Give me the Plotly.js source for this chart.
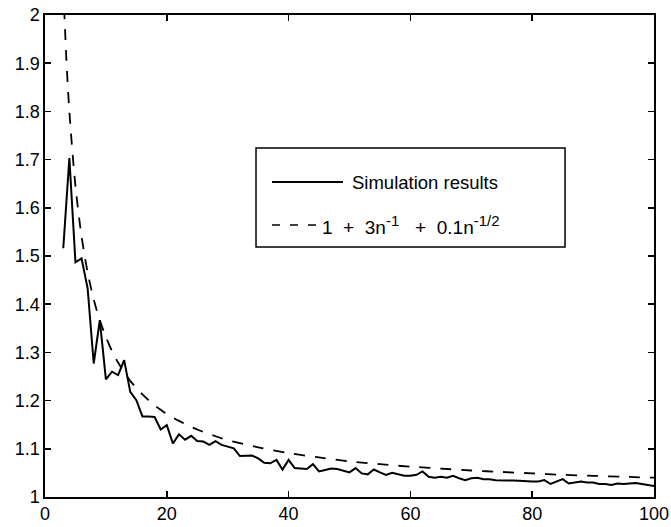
<!DOCTYPE html>
<html>
<head>
<meta charset="utf-8">
<script src="https://cdn.plot.ly/plotly-3.0.1.min.js"></script>
<style>
  html, body { margin: 0; padding: 0; background: #fff; }
  #chart { width: 671px; height: 527px; }
</style>
</head>
<body>
<div id="chart"></div>
<script>
// Simulation results, one value per n = 3..100
const simN = [];
for (let n = 3; n <= 100; n++) simN.push(n);
const simValues = [
  1.516, 1.703, 1.487, 1.495, 1.433, 1.277, 1.367, 1.244, 1.260, 1.253,
  1.284, 1.218, 1.201, 1.167, 1.167, 1.166, 1.140, 1.149, 1.111, 1.130,
  1.119, 1.127, 1.116, 1.115, 1.108, 1.116, 1.108, 1.104, 1.101, 1.085,
  1.085, 1.086, 1.080, 1.071, 1.070, 1.077, 1.057, 1.077, 1.060, 1.059,
  1.058, 1.068, 1.053, 1.056, 1.059, 1.058, 1.055, 1.051, 1.060, 1.049,
  1.047, 1.057, 1.051, 1.046, 1.050, 1.047, 1.044, 1.044, 1.046, 1.053,
  1.042, 1.040, 1.042, 1.040, 1.044, 1.039, 1.035, 1.039, 1.040, 1.037,
  1.037, 1.035, 1.034, 1.034, 1.034, 1.033, 1.032, 1.032, 1.032, 1.035,
  1.027, 1.032, 1.037, 1.028, 1.030, 1.032, 1.030, 1.030, 1.027, 1.027,
  1.025, 1.028, 1.027, 1.028, 1.029, 1.027, 1.025, 1.023
];

// Reference curve 1 + 3/n + 0.1/sqrt(n), tabulated
const fitN = [3, 3.5, 4, 5, 6, 7, 8, 9, 10, 11, 12, 13, 14, 15, 16, 17, 18, 19, 20,
  22, 25, 28, 30, 35, 40, 45, 50, 55, 60, 65, 70, 75, 80, 85, 90, 95, 100];
const fitValues = [2.058, 1.911, 1.800, 1.645, 1.541, 1.466, 1.410, 1.367, 1.332, 1.303,
  1.279, 1.259, 1.241, 1.226, 1.213, 1.201, 1.190, 1.181, 1.172,
  1.158, 1.140, 1.126, 1.118, 1.103, 1.091, 1.082, 1.074, 1.068, 1.063, 1.059,
  1.055, 1.052, 1.049, 1.046, 1.044, 1.042, 1.040];

const xTicks = [0, 20, 40, 60, 80, 100];
const yTicks = [1, 1.1, 1.2, 1.3, 1.4, 1.5, 1.6, 1.7, 1.8, 1.9, 2];

const SUP = '<sup><span style="font-size:15px">';
const legendLabels = [
  'Simulation results',
  '1&nbsp;&nbsp;+&nbsp;&nbsp;3n' + SUP + '-1</span></sup>&nbsp;&nbsp;&nbsp;+&nbsp;&nbsp;0.1n' + SUP + '-1/2</span></sup>'
];

const FONT = 'Liberation Sans, Arial, Helvetica, sans-serif';

const traces = [
  {
    x: simN, y: simValues, type: 'scatter', mode: 'lines',
    line: { color: '#000', width: 2 }, showlegend: false, hoverinfo: 'skip'
  },
  {
    x: fitN, y: fitValues, type: 'scatter', mode: 'lines',
    line: { color: '#000', width: 1.8, dash: '11px,10px', shape: 'spline', smoothing: 0.8 },
    showlegend: false, hoverinfo: 'skip'
  }
];

const axisCommon = {
  showline: true, linecolor: '#000', linewidth: 1.6, mirror: 'ticks',
  ticks: 'inside', ticklen: 6, tickwidth: 1.5, tickcolor: '#000',
  showgrid: false, zeroline: false,
  tickfont: { family: FONT, size: 18, color: '#000' }
};

// Legend box drawn in paper coordinates
const shapes = [
  { type: 'rect', xref: 'paper', yref: 'paper', x0: 0.3465, x1: 0.8539, y0: 0.5187, y1: 0.7241,
    line: { color: '#000', width: 1.5 }, fillcolor: '#fff', layer: 'above' },
  { type: 'line', xref: 'paper', yref: 'paper', x0: 0.3727, x1: 0.4893, y0: 0.6535, y1: 0.6535,
    line: { color: '#000', width: 1.8 }, layer: 'above' },
  { type: 'line', xref: 'paper', yref: 'paper', x0: 0.3727, x1: 0.4516, y0: 0.5643, y1: 0.5643,
    line: { color: '#000', width: 1.6, dash: '8px,10px' }, layer: 'above' }
];

const annotations = [
  { xref: 'paper', yref: 'paper', x: 0.5008, y: 0.6535, xanchor: 'left', yanchor: 'middle',
    text: legendLabels[0], showarrow: false, font: { family: FONT, size: 18.5, color: '#000' } },
  { xref: 'paper', yref: 'paper', x: 0.4516, y: 0.5643, xanchor: 'left', yanchor: 'middle',
    text: legendLabels[1], showarrow: false, font: { family: FONT, size: 19, color: '#000' } }
];

const layout = {
  width: 671, height: 527,
  margin: { l: 45, r: 17, t: 15, b: 30, pad: 0 },
  paper_bgcolor: '#fff', plot_bgcolor: '#fff',
  showlegend: false,
  xaxis: Object.assign({}, axisCommon, { range: [0, 100], tickvals: xTicks, ticktext: xTicks.map(String) }),
  yaxis: Object.assign({}, axisCommon, { range: [1, 2], tickvals: yTicks, ticktext: yTicks.map(String) }),
  shapes: shapes,
  annotations: annotations
};

Plotly.newPlot('chart', traces, layout, { displayModeBar: false, staticPlot: true });
</script>
</body>
</html>
